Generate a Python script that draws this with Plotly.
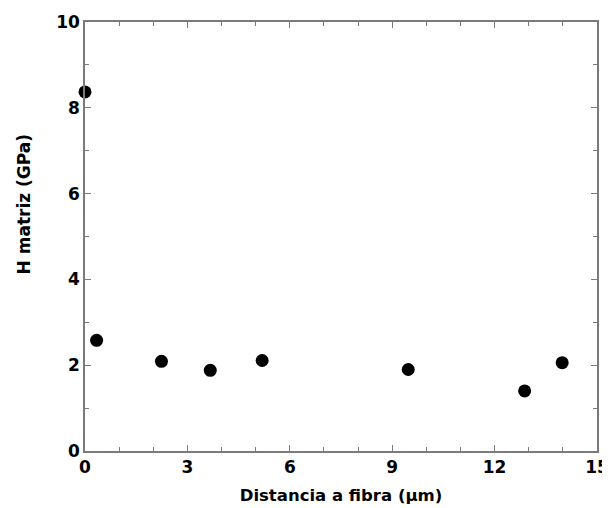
import plotly.graph_objects as go

distancia = [0.0, 0.34, 2.24, 3.67, 5.19, 9.47, 12.88, 13.98]
h_matriz = [8.37, 2.58, 2.09, 1.88, 2.11, 1.90, 1.40, 2.06]
x_ticks = [0, 3, 6, 9, 12, 15]
y_ticks = [0, 2, 4, 6, 8, 10]
x_title = "Distancia a fibra (µm)"
y_title = "H matriz (GPa)"

FONT = "DejaVu Sans, Arial"

fig = go.Figure()
fig.add_trace(go.Scatter(
    x=distancia, y=h_matriz, mode="markers",
    marker=dict(color="black", size=13),
    cliponaxis=False, showlegend=False,
))

axis_common = dict(
    showline=True, linecolor="#7a7a7a", linewidth=1.5, mirror="ticks",
    ticks="inside", ticklen=6, tickwidth=1.2, tickcolor="#7a7a7a",
    showgrid=False, zeroline=False, automargin=False,
    tickfont=dict(family=FONT, size=17, color="black", weight="bold"),
)

fig.update_xaxes(
    range=[0, 15], tickvals=x_ticks, ticktext=[str(v) for v in x_ticks],
    minor=dict(ticks="inside", ticklen=4, dtick=1, tickcolor="#7a7a7a", showgrid=False),
    title=dict(text=x_title, standoff=13,
               font=dict(family=FONT, size=16.5, color="black", weight="bold")),
    **axis_common,
)
fig.update_yaxes(
    range=[0, 10], tickvals=y_ticks, ticktext=[str(v) for v in y_ticks],
    minor=dict(ticks="inside", ticklen=4, dtick=1, tickcolor="#7a7a7a", showgrid=False),
    **axis_common,
)

fig.add_annotation(
    text=y_title, textangle=-90, showarrow=False,
    xref="paper", yref="paper", x=-0.119, y=0.575,
    xanchor="center", yanchor="middle",
    font=dict(family=FONT, size=17, color="black", weight="bold"),
)

# the page places the figure 8px in from the top-left corner
fig.update_layout(
    width=602, height=500,
    margin=dict(l=77, r=13, t=14, b=57),
    plot_bgcolor="white", paper_bgcolor="white",
)

fig.write_html("out.html")
